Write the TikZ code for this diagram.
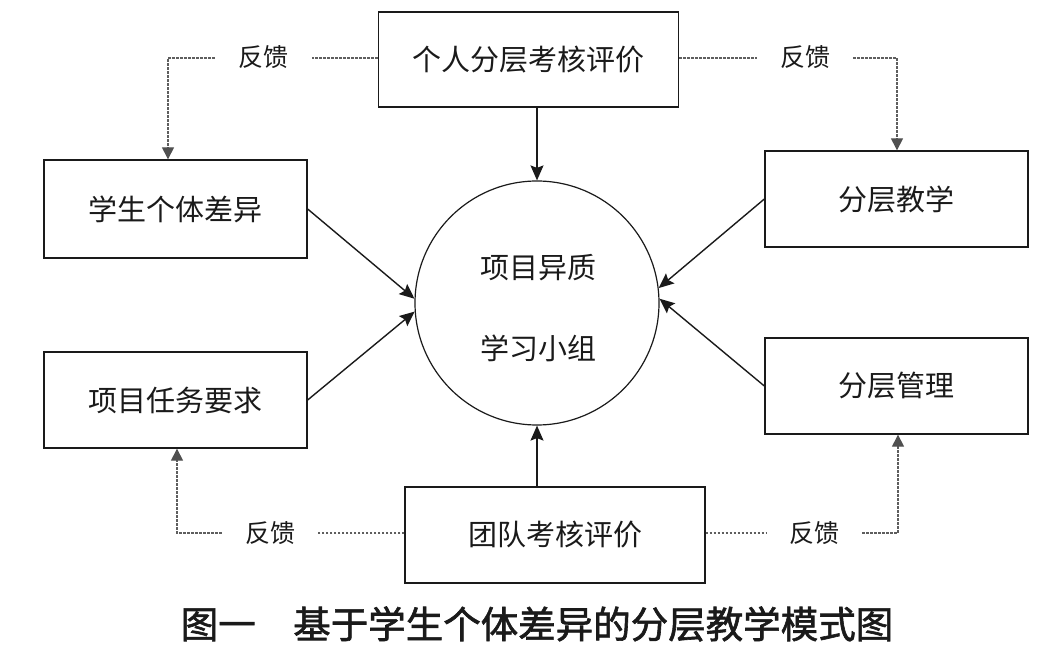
\documentclass[tikz,border=0pt]{standalone}
\usepackage{fontspec}
\setmainfont{Noto Sans CJK SC}
\newfontfamily\capfont[FakeBold=1.6]{Noto Sans CJK SC}
\usetikzlibrary{arrows.meta,calc}
\definecolor{ink}{HTML}{1A1A1A}
\definecolor{fbgray}{HTML}{5E5E5E}
\definecolor{tipgray}{HTML}{505050}
\tikzset{
  box/.style={draw=ink, line width=1.3pt, rectangle, inner sep=0pt, font=\fontsize{29}{32}\selectfont, text=ink},
  hub/.style={draw=ink, line width=1.2pt, circle, inner sep=0pt, minimum size=244pt},
  solidarrow/.style={draw=ink, line width=1.4pt, -{Stealth[length=15pt,width=13pt,inset=2.5pt]}},
  fbline/.style={draw=fbgray, line width=1.1pt, dash pattern=on 2.5pt off 1.5pt},
  fbarrow/.style={fbline, -{Triangle[length=12pt,width=12pt,color=tipgray]}},
  fblabel/.style={inner sep=0pt, minimum height=30pt, font=\fontsize{25}{28}\selectfont, text=ink},
  caption/.style={inner sep=0pt, font=\fontsize{37.5}{42}\selectfont\capfont, text=ink}
}
\begin{document}
\begin{tikzpicture}[x=1pt,y=-1pt]
\useasboundingbox (0,0) rectangle (1037,660);
% boxes
\node[box, minimum width=300pt, minimum height=95pt] (top) at (528.5,59.5) {个人分层考核评价};
\node[box, minimum width=263pt, minimum height=98pt] (l1) at (175.5,209) {学生个体差异};
\node[box, minimum width=263pt, minimum height=96pt] (l2) at (175.5,400) {项目任务要求};
\node[box, minimum width=263pt, minimum height=96pt] (r1) at (896.5,199) {分层教学};
\node[box, minimum width=263pt, minimum height=96pt] (r2) at (896.5,386) {分层管理};
\node[box, minimum width=300pt, minimum height=96pt] (bot) at (555,535) {团队考核评价};
\node[hub] (hub) at (537,303) {};
\node[font=\fontsize{29}{32}\selectfont, text=ink, inner sep=0pt] (h1) at (538,268) {项目异质};
\node[font=\fontsize{29}{32}\selectfont, text=ink, inner sep=0pt] (h2) at (538,348) {学习小组};
% solid arrows
\draw[solidarrow] (l1.east) -- (hub.178);
\draw[solidarrow] (l2.east) -- (hub.184);
\draw[solidarrow] (r1.west) -- (hub.7);
\draw[solidarrow] (r2.west) -- (hub.2);
\draw[solidarrow] (hub.north |- top.south) -- (hub.north);
\draw[solidarrow] (hub.south |- bot.north) -- (hub.south);
% feedback labels
\node[fblabel, minimum width=97pt] (fb1) at (263.5,57) {反馈};
\node[fblabel, minimum width=96pt] (fb2) at (805,57) {反馈};
\node[fblabel, minimum width=96pt] (fb3) at (270,533) {反馈};
\node[fblabel, minimum width=95pt] (fb4) at (814.5,533) {反馈};
\coordinate (c1) at (168,58);
\coordinate (c2) at (897,58);
\coordinate (c3) at (177,533);
\coordinate (c4) at (898,533);
% feedback lines
\draw[fbline] (top.west |- c1) -- (fb1.east |- c1);
\draw[fbarrow] (fb1.west |- c1) -- (c1) -- (c1 |- l1.north);
\draw[fbline] (top.east |- c2) -- (fb2.west |- c2);
\draw[fbarrow] (fb2.east |- c2) -- (c2) -- (c2 |- r1.north);
\draw[fbline] (bot.west |- c3) -- (fb3.east |- c3);
\draw[fbarrow] (fb3.west |- c3) -- (c3) -- (c3 |- l2.south);
\draw[fbline] (bot.east |- c4) -- (fb4.west |- c4);
\draw[fbarrow] (fb4.east |- c4) -- (c4) -- (c4 |- r2.south);
% caption
\node[caption] (cap) at (537,624) {图一\hspace{1em}基于学生个体差异的分层教学模式图};
\end{tikzpicture}
\end{document}
